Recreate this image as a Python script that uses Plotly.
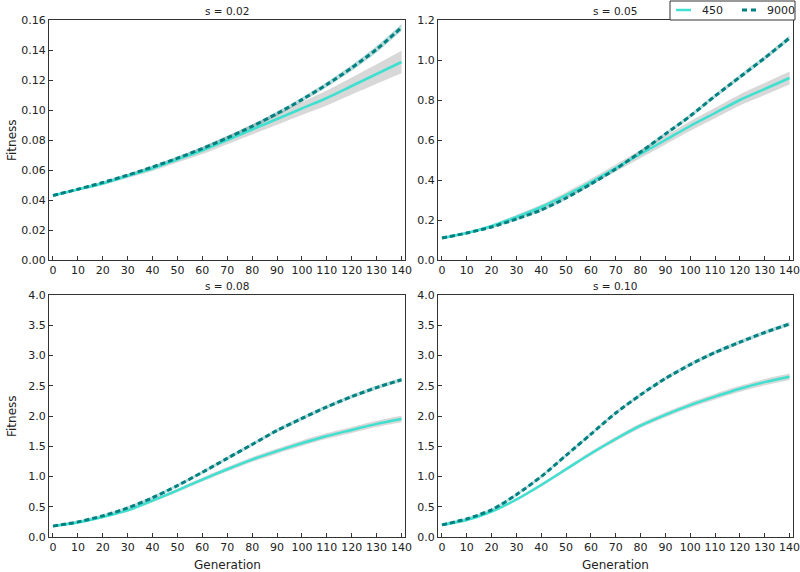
import plotly.graph_objects as go

generations = [0, 10, 20, 30, 40, 50, 60, 70, 80, 90, 100, 110, 120, 130, 140]
x_ticks = list(range(0, 141, 10))

panel_titles = ["s = 0.02", "s = 0.05", "s = 0.08", "s = 0.10"]
series_names = ["450", "9000"]

# s = 0.02
s002_450 = [0.043, 0.047, 0.051, 0.056, 0.061, 0.067, 0.073, 0.080, 0.087, 0.094, 0.101, 0.108, 0.116, 0.124, 0.132]
s002_450_err = [0.0005, 0.0008, 0.001, 0.0013, 0.0016, 0.002, 0.0024, 0.0028, 0.0033, 0.0038, 0.0043, 0.005, 0.0057, 0.0065, 0.0075]
s002_9000 = [0.043, 0.0472, 0.0517, 0.0566, 0.0620, 0.0679, 0.0743, 0.0814, 0.0891, 0.0976, 0.1069, 0.1170, 0.1281, 0.1405, 0.1550]
s002_9000_err = [0.0005, 0.0006, 0.0007, 0.0008, 0.0009, 0.001, 0.0011, 0.0012, 0.0013, 0.0014, 0.0015, 0.0017, 0.0019, 0.0021, 0.0023]

# s = 0.05
s005_450 = [0.11, 0.135, 0.17, 0.215, 0.265, 0.325, 0.39, 0.46, 0.53, 0.60, 0.67, 0.735, 0.80, 0.855, 0.91]
s005_450_err = [0.004, 0.006, 0.008, 0.01, 0.012, 0.014, 0.016, 0.018, 0.02, 0.022, 0.024, 0.026, 0.028, 0.03, 0.032]
s005_9000 = [0.11, 0.135, 0.165, 0.205, 0.25, 0.31, 0.38, 0.455, 0.54, 0.63, 0.72, 0.82, 0.915, 1.01, 1.11]
s005_9000_err = [0.005, 0.005, 0.006, 0.006, 0.007, 0.007, 0.008, 0.008, 0.009, 0.009, 0.01, 0.01, 0.011, 0.011, 0.012]

# s = 0.08
s008_450 = [0.18, 0.24, 0.33, 0.44, 0.60, 0.77, 0.95, 1.12, 1.28, 1.42, 1.55, 1.67, 1.77, 1.87, 1.95]
s008_450_err = [0.015, 0.018, 0.021, 0.024, 0.027, 0.03, 0.033, 0.036, 0.039, 0.042, 0.045, 0.047, 0.049, 0.051, 0.053]
s008_9000 = [0.18, 0.25, 0.35, 0.48, 0.65, 0.85, 1.07, 1.30, 1.53, 1.76, 1.96, 2.15, 2.32, 2.47, 2.60]
s008_9000_err = [0.02, 0.021, 0.022, 0.023, 0.024, 0.025, 0.026, 0.027, 0.028, 0.029, 0.03, 0.031, 0.032, 0.033, 0.034]

# s = 0.10
s010_450 = [0.20, 0.28, 0.42, 0.62, 0.86, 1.12, 1.38, 1.62, 1.84, 2.02, 2.18, 2.32, 2.45, 2.56, 2.65]
s010_450_err = [0.015, 0.018, 0.021, 0.024, 0.027, 0.03, 0.033, 0.036, 0.039, 0.042, 0.045, 0.047, 0.049, 0.051, 0.053]
s010_9000 = [0.20, 0.30, 0.45, 0.70, 1.00, 1.35, 1.70, 2.05, 2.35, 2.62, 2.85, 3.05, 3.22, 3.38, 3.52]
s010_9000_err = [0.02, 0.021, 0.022, 0.023, 0.024, 0.025, 0.026, 0.027, 0.028, 0.029, 0.03, 0.031, 0.032, 0.033, 0.034]

panels = [
    (s002_450, s002_450_err, s002_9000, s002_9000_err),
    (s005_450, s005_450_err, s005_9000, s005_9000_err),
    (s008_450, s008_450_err, s008_9000, s008_9000_err),
    (s010_450, s010_450_err, s010_9000, s010_9000_err),
]

y_ranges = [[0, 0.16], [0, 1.2], [0, 4.0], [0, 4.0]]
y_dticks = [0.02, 0.2, 0.5, 0.5]
y_formats = [".2f", ".1f", ".1f", ".1f"]

W, H = 800, 572


def px_x(p):
    return p / W


def px_y(p):
    return 1 - p / H


x_domains = [[px_x(49), px_x(405)], [px_x(438), px_x(793)], [px_x(49), px_x(405)], [px_x(438), px_x(793)]]
y_domains = [[px_y(260), px_y(20)], [px_y(260), px_y(20)],
             [px_y(537), px_y(295)], [px_y(537), px_y(295)]]

C450 = "#40E0D0"
C9000 = "#008080"
BAND450 = "rgba(190,190,190,0.6)"
BAND9000 = "rgba(0,128,128,0.28)"
FONT = "DejaVu Sans"
TXT = "#222"

fig = go.Figure()

for i, (m450, e450, m9000, e9000) in enumerate(panels):
    xa = "x" if i == 0 else f"x{i+1}"
    ya = "y" if i == 0 else f"y{i+1}"
    for mean, err, band_col in ((m450, e450, BAND450), (m9000, e9000, BAND9000)):
        upper = [m + e for m, e in zip(mean, err)]
        lower = [m - e for m, e in zip(mean, err)]
        fig.add_trace(go.Scatter(
            x=generations, y=lower, mode="lines", line=dict(width=0, shape="spline", smoothing=0.8),
            hoverinfo="skip", showlegend=False, xaxis=xa, yaxis=ya))
        fig.add_trace(go.Scatter(
            x=generations, y=upper, mode="lines", fill="tonexty", fillcolor=band_col,
            line=dict(width=0, shape="spline", smoothing=0.8),
            hoverinfo="skip", showlegend=False, xaxis=xa, yaxis=ya))
    fig.add_trace(go.Scatter(
        x=generations, y=m450, mode="lines", name=series_names[0],
        line=dict(color=C450, width=2.5, shape="spline", smoothing=0.8), showlegend=False,
        xaxis=xa, yaxis=ya))
    fig.add_trace(go.Scatter(
        x=generations, y=m9000, mode="lines", name=series_names[1],
        line=dict(color=C9000, width=3, dash="5px,3px", shape="spline", smoothing=0.8),
        showlegend=False, xaxis=xa, yaxis=ya))

layout = dict(
    width=W, height=H,
    margin=dict(l=0, r=0, t=0, b=0, autoexpand=False),
    paper_bgcolor="white", plot_bgcolor="white",
    font=dict(family=FONT, size=11, color=TXT),
    showlegend=False,
)

for i in range(4):
    xk = "xaxis" if i == 0 else f"xaxis{i+1}"
    yk = "yaxis" if i == 0 else f"yaxis{i+1}"
    ya = "y" if i == 0 else f"y{i+1}"
    xa = "x" if i == 0 else f"x{i+1}"
    layout[xk] = dict(
        domain=x_domains[i], anchor=ya, range=[-1.6, 141.4],
        tickvals=x_ticks, ticks="inside", ticklen=4, tickcolor="#333",
        showline=True, linecolor="#333", linewidth=1, mirror=True,
        showgrid=False, zeroline=False, ticklabeloverflow="allow",
        tickfont=dict(size=11, family=FONT, color=TXT),
    )
    layout[yk] = dict(
        domain=y_domains[i], anchor=xa, range=y_ranges[i],
        dtick=y_dticks[i], tick0=0, tickformat=y_formats[i],
        ticks="inside", ticklen=4, tickcolor="#333",
        showline=True, linecolor="#333", linewidth=1, mirror=True,
        showgrid=False, zeroline=False, ticklabeloverflow="allow",
        tickfont=dict(size=11, family=FONT, color=TXT),
    )

fig.update_layout(**layout)

# panel titles
for i, t in enumerate(panel_titles):
    xd = x_domains[i]
    yd = y_domains[i]
    fig.add_annotation(text=t, x=(xd[0] + xd[1]) / 2, y=yd[1], xref="paper", yref="paper",
                       xanchor="center", yanchor="bottom", yshift=1, showarrow=False,
                       font=dict(size=10.5, family=FONT, color=TXT))

# axis titles
for i in (0, 2):
    yd = y_domains[i]
    fig.add_annotation(text="Fitness", x=px_x(12), y=(yd[0] + yd[1]) / 2, xref="paper", yref="paper",
                       xanchor="center", yanchor="middle", textangle=-90, showarrow=False,
                       font=dict(size=12, family=FONT, color=TXT))
for i in (2, 3):
    xd = x_domains[i]
    fig.add_annotation(text="Generation", x=(xd[0] + xd[1]) / 2, y=px_y(565), xref="paper", yref="paper",
                       xanchor="center", yanchor="middle", showarrow=False,
                       font=dict(size=12, family=FONT, color=TXT))

# legend (drawn manually to match the compact box)
fig.add_shape(type="rect", xref="paper", yref="paper",
              x0=px_x(670), x1=px_x(795), y0=px_y(20), y1=px_y(1),
              line=dict(color="#333", width=1), fillcolor="white", layer="above")
fig.add_shape(type="line", xref="paper", yref="paper",
              x0=px_x(676), x1=px_x(691), y0=px_y(10), y1=px_y(10),
              line=dict(color=C450, width=2.5), layer="above")
fig.add_shape(type="line", xref="paper", yref="paper",
              x0=px_x(742), x1=px_x(756), y0=px_y(10), y1=px_y(10),
              line=dict(color=C9000, width=3, dash="5px,4px"), layer="above")
fig.add_annotation(text=series_names[0], x=px_x(700), y=px_y(10), xref="paper", yref="paper",
                   xanchor="left", yanchor="middle", showarrow=False,
                   font=dict(size=11, family=FONT, color=TXT))
fig.add_annotation(text=series_names[1], x=px_x(765), y=px_y(10), xref="paper", yref="paper",
                   xanchor="left", yanchor="middle", showarrow=False,
                   font=dict(size=11, family=FONT, color=TXT))

fig.write_html("out.html", config={"displayModeBar": False},
               post_script="document.body.style.margin='0px';document.body.style.overflow='hidden';")
